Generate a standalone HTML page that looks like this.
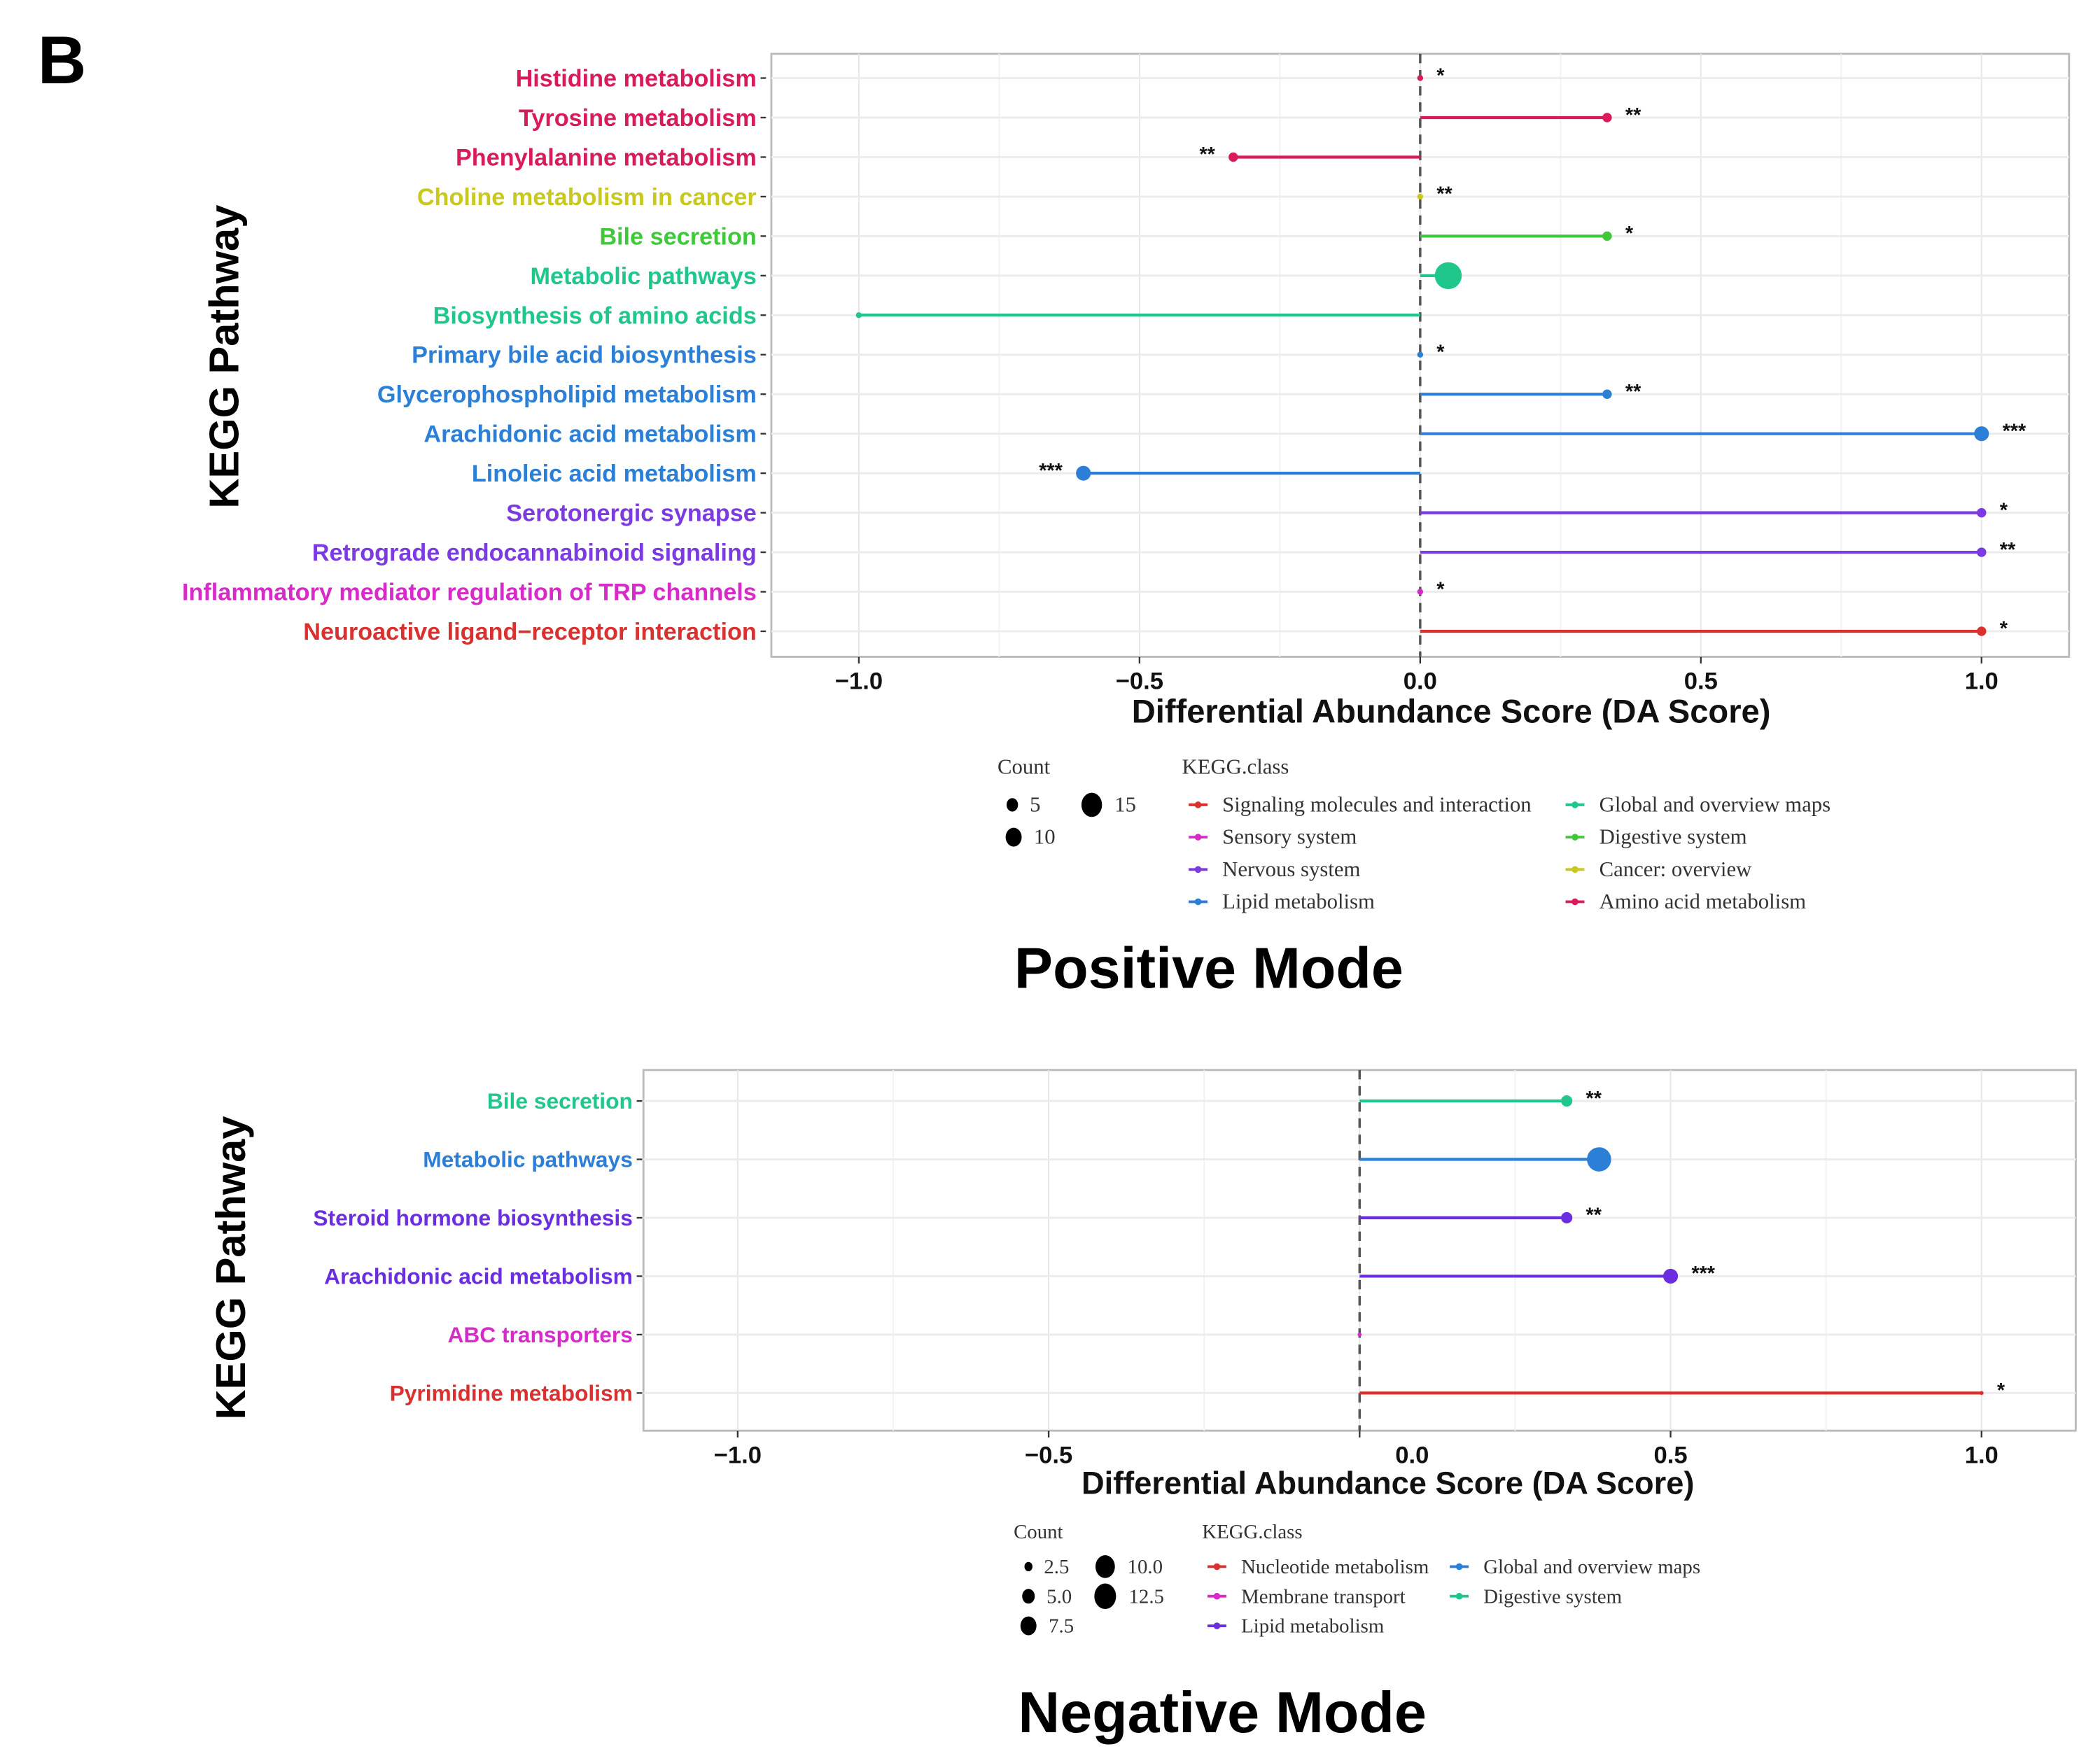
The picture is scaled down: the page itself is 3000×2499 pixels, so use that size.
<!DOCTYPE html>
<html><head><meta charset="utf-8"><style>
html,body{margin:0;padding:0;background:#fff;width:3000px;height:2499px;overflow:hidden}
svg{display:block}
.lab{font-family:"Liberation Sans",sans-serif;font-weight:bold}
.ser{font-family:"Liberation Serif",serif;fill:#333}
</style></head><body>
<svg id="fig" width="3000" height="2499" viewBox="0 0 1560 1299.5" preserveAspectRatio="none" xmlns="http://www.w3.org/2000/svg">
<text x="28" y="62" class="lab" font-size="50">B</text>
<g id="top"></g>
<g id="bot"></g>
<text x="898" y="734" class="lab" font-size="43" text-anchor="middle">Positive Mode</text>
<text x="908" y="1287" class="lab" font-size="43" text-anchor="middle">Negative Mode</text>
</svg>
<script>
const posPathways = ["Histidine metabolism","Tyrosine metabolism","Phenylalanine metabolism","Choline metabolism in cancer","Bile secretion","Metabolic pathways","Biosynthesis of amino acids","Primary bile acid biosynthesis","Glycerophospholipid metabolism","Arachidonic acid metabolism","Linoleic acid metabolism","Serotonergic synapse","Retrograde endocannabinoid signaling","Inflammatory mediator regulation of TRP channels","Neuroactive ligand\u2212receptor interaction"];
const posScores = [0, 0.333, -0.333, 0, 0.333, 0.05, -1.0, 0, 0.333, 1.0, -0.6, 1.0, 1.0, 0, 1.0];
const posCounts = [1, 3, 3, 1, 3, 15, 1, 1, 3, 4, 4, 2, 2, 1, 2];
const posSig = ["*","**","**","**","*","","","*","**","***","***","*","**","*","*"];
const posClass = ["amino","amino","amino","cancer","digest","global","global","lipid","lipid","lipid","lipid","nervous","nervous","sensory","signal"];
const negPathways = ["Bile secretion","Metabolic pathways","Steroid hormone biosynthesis","Arachidonic acid metabolism","ABC transporters","Pyrimidine metabolism"];
const negScores = [0.333, 0.385, 0.333, 0.5, 0, 1.0];
const negCounts = [2, 12, 2, 5, 1, 1];
const negSig = ["**","","**","***","","*"];
const negClass = ["digest2","global2","lipid2","lipid2","membrane","nucleotide"];
const xTicks = [-1.0, -0.5, 0.0, 0.5, 1.0];
const xTickLabels = ["\u22121.0","\u22120.5","0.0","0.5","1.0"];

const COLORS = {amino:"#d81b5a",cancer:"#c8c81e",digest:"#3ec83a",global:"#20c78b",lipid:"#2b7fd6",nervous:"#7b3be0",sensory:"#d62bc8",signal:"#d8312f",
 digest2:"#20c78b",global2:"#2b7fd6",lipid2:"#6a2ee0",membrane:"#d62bc8",nucleotide:"#d8312f"};
const NS="http://www.w3.org/2000/svg";
function mk(parent,tag,attrs,text){const e=document.createElementNS(NS,tag);for(const k in attrs)e.setAttribute(k,attrs[k]);if(text!==undefined)e.textContent=text;parent.appendChild(e);return e;}

function drawChart(g,cfg){
  const {x0,x1,y0,y1,zeroX,unit,rowY0,rowStep,labelX,fs,names,scores,counts,sig,cls,rfun,tickY,tickLabelShift,titleX,titleY,titleFs,ytX,ytY}=cfg;
  const sx=v=>zeroX+v*unit;
  const sy=i=>rowY0+i*rowStep;
  const frame=mk(g,'rect',{x:x0,y:y0,width:x1-x0,height:y1-y0,fill:'#fff',stroke:'#bbb','stroke-width':1.5});
  
  
  for(let v=-1.25;v<=1.26;v+=0.25){const X=sx(v);if(X<x0||X>x1)continue;
    const gl=mk(g,'line',{x1:X,x2:X,y1:y0,y2:y1,stroke:Math.abs((v*2)%1)<1e-6?'#e6e6e6':'#f2f2f2','stroke-width':1});
    
    }
  names.forEach((n,i)=>{const gl=mk(g,'line',{x1:x0,x2:x1,y1:sy(i),y2:sy(i),stroke:'#ececec','stroke-width':1.5});
    
    });
  const zl=mk(g,'line',{x1:zeroX,x2:zeroX,y1:y0,y2:y1,stroke:'#555','stroke-width':1.8,'stroke-dasharray':'7,5'});
  
  
  names.forEach((n,i)=>{
    const c=COLORS[cls[i]],Y=sy(i);
    const t=mk(g,'text',{x:labelX,y:Y+fs*0.35,'text-anchor':'end','font-size':fs,fill:c,class:'lab'},n);
    
    
    mk(g,'line',{x1:labelX+3,x2:labelX+7,y1:Y,y2:Y,stroke:'#333','stroke-width':1.2});
    const ln=mk(g,'line',{x1:zeroX,x2:sx(scores[i]),y1:Y,y2:Y,stroke:c,'stroke-width':2.2});
    
    
    const pt=mk(g,'circle',{cx:sx(scores[i]),cy:Y,r:rfun(counts[i]),fill:c});
    
    
    if(sig[i]){const neg=scores[i]<0;const off=rfun(counts[i])+10;
      const st=mk(g,'text',{x:sx(scores[i])+(neg?-off:off),y:Y+3,'text-anchor':neg?'end':'start','font-size':15,fill:'#111',class:'lab'},sig[i]);
      
      }
  });
  xTicks.forEach((v,i)=>{const X=sx(v);
    mk(g,'line',{x1:X,x2:X,y1:y1,y2:y1+5,stroke:'#333','stroke-width':1.2});
    const tx=mk(g,'text',{x:X+(v===0?tickLabelShift:0),y:tickY,'text-anchor':'middle','font-size':18,fill:'#111',class:'lab'},xTickLabels[i]);
    
    });
  const xt=mk(g,'text',{x:titleX,y:titleY,'text-anchor':'middle','font-size':titleFs,fill:'#111',class:'lab'},'Differential Abundance Score (DA Score)');
  
  
  const yt=mk(g,'text',{x:0,y:0,'text-anchor':'middle','font-size':31,fill:'#000',class:'lab',transform:`translate(${ytX},${ytY}) rotate(-90)`},'KEGG Pathway');
  
  
}

drawChart(document.getElementById('top'),{x0:573,x1:1537,y0:40,y1:488,zeroX:1055,unit:417,rowY0:58,rowStep:29.36,labelX:562,fs:17.8,
  names:posPathways,scores:posScores,counts:posCounts,sig:posSig,cls:posClass,rfun:c=>c>=10?10:(c>=4?5.5:(c>=2?3.5:2.2)),
  tickY:512,tickLabelShift:0,titleX:1078,titleY:537,titleFs:24.5,ytX:177,ytY:265});
drawChart(document.getElementById('bot'),{x0:478,x1:1542,y0:795,y1:1063,zeroX:1010,unit:462,rowY0:818,rowStep:43.4,labelX:470,fs:16.5,
  names:negPathways,scores:negScores,counts:negCounts,sig:negSig,cls:negClass,rfun:c=>c>=10?9:(c>=5?5.5:(c>=2?4.2:1.5)),
  tickY:1087,tickLabelShift:39,titleX:1031,titleY:1110,titleFs:23.5,ytX:182,ytY:942});

// legends
const svg=document.getElementById('fig');
function legend(cfg){
  const g=mk(svg,'g',{});
  
  
  mk(g,'text',{x:cfg.cx,y:cfg.ty,'font-size':cfg.fs,class:'ser'},'Count');
  cfg.counts.forEach(k=>{mk(g,'ellipse',{cx:k[0],cy:k[1],rx:k[2]*0.85,ry:k[2],fill:'#000'});mk(g,'text',{x:k[0]+k[2]+8,y:k[1]+5,'font-size':cfg.fs,class:'ser'},k[3]);});
  mk(g,'text',{x:cfg.kx,y:cfg.ty,'font-size':cfg.fs,class:'ser'},'KEGG.class');
  cfg.items.forEach(it=>{
    const e=mk(g,'g',{});
    
    
    mk(e,'line',{x1:it[0]-7,x2:it[0]+7,y1:it[1],y2:it[1],stroke:it[2],'stroke-width':2});
    mk(e,'circle',{cx:it[0],cy:it[1],r:2.5,fill:it[2]});
    mk(e,'text',{x:it[0]+18,y:it[1]+5,'font-size':cfg.fs,class:'ser'},it[3]);});
}
legend({name:'positive-legend',cx:741,ty:575,kx:878,fs:16,
  counts:[[752,598,5,'5'],[811,598,9,'15'],[753,622,7,'10']],
  items:[[890,598,COLORS.signal,'Signaling molecules and interaction'],[890,622,COLORS.sensory,'Sensory system'],[890,646,COLORS.nervous,'Nervous system'],[890,670,COLORS.lipid,'Lipid metabolism'],
         [1170,598,COLORS.global,'Global and overview maps'],[1170,622,COLORS.digest,'Digestive system'],[1170,646,COLORS.cancer,'Cancer: overview'],[1170,670,COLORS.amino,'Amino acid metabolism']]});
legend({name:'negative-legend',cx:753,ty:1143,kx:893,fs:15,
  counts:[[764,1164,3.5,'2.5'],[764,1186,5.5,'5.0'],[764,1208,7,'7.5'],[821,1164,8.5,'10.0'],[821,1186,9.5,'12.5']],
  items:[[904,1164,COLORS.nucleotide,'Nucleotide metabolism'],[904,1186,COLORS.membrane,'Membrane transport'],[904,1208,COLORS.lipid2,'Lipid metabolism'],
         [1084,1164,COLORS.global2,'Global and overview maps'],[1084,1186,COLORS.digest2,'Digestive system']]});
</script>
</body></html>
